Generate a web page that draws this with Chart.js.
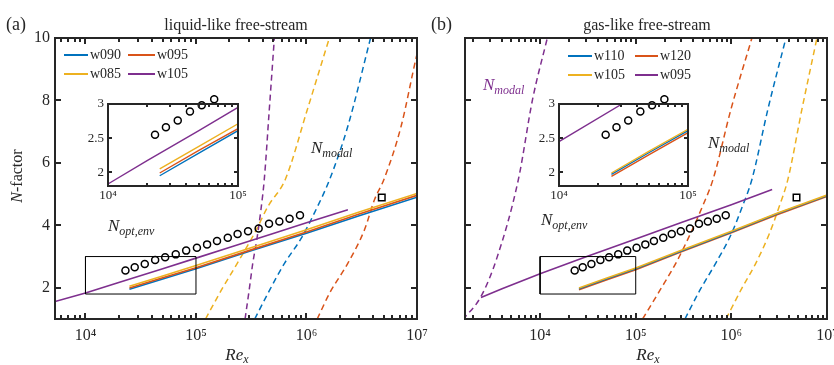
<!DOCTYPE html>
<html>
<head>
<meta charset="utf-8">
<script src="https://cdn.jsdelivr.net/npm/chart.js@4.4.1/dist/chart.umd.min.js"></script>
<style>
  html, body { margin: 0; padding: 0; background: #fff; }
  #fig { position: relative; width: 834px; height: 365px; overflow: hidden;
         font-family: "Liberation Serif", "DejaVu Serif", serif; color: #262626; }
  #fig canvas { position: absolute; }
  .t { position: absolute; white-space: nowrap; line-height: 1; }
  .c { transform: translateX(-50%); }
  .sub { position: relative; font-size: 12px; top: 4px; font-style: italic; }
  .subx { position: relative; font-size: 12px; top: 3px; font-style: italic; }
  .sw { position: absolute; height: 2px; }
</style>
</head>
<body>
<div id="fig">
  <canvas id="mainA" width="440" height="365" style="left:0;top:0;width:440px;height:365px"></canvas>
  <canvas id="mainB" width="414" height="365" style="left:420px;top:0;width:414px;height:365px"></canvas>
  <canvas id="insetA" width="175" height="115" style="left:80px;top:95px;width:175px;height:115px"></canvas>
  <canvas id="insetB" width="175" height="115" style="left:530px;top:95px;width:175px;height:115px"></canvas>

  <div class="t" style="left:6px;top:15px;font-size:18px">(a)</div>
  <div class="t" style="left:431px;top:15px;font-size:18px">(b)</div>
  <div class="t c" style="left:236px;top:17px;font-size:16px">liquid-like free-stream</div>
  <div class="t c" style="left:647px;top:17px;font-size:16px">gas-like free-stream</div>

  <div class="t" style="left:17px;top:176px;font-size:16px;transform:translate(-50%,-50%) rotate(-90deg)"><i>N</i>-factor</div>
  <div class="t c" style="left:237px;top:346px;font-size:17px"><i>Re</i><span class="subx">x</span></div>
  <div class="t c" style="left:648px;top:346px;font-size:17px"><i>Re</i><span class="subx">x</span></div>

  <div class="t" style="left:311px;top:139px;font-size:17px"><i>N</i><span class="sub">modal</span></div>
  <div class="t" style="left:108px;top:217px;font-size:17px"><i>N</i><span class="sub">opt,env</span></div>
  <div class="t" style="left:483px;top:76px;font-size:17px;color:#7E2F8E"><i>N</i><span class="sub">modal</span></div>
  <div class="t" style="left:708px;top:134px;font-size:17px"><i>N</i><span class="sub">modal</span></div>
  <div class="t" style="left:541px;top:211px;font-size:17px"><i>N</i><span class="sub">opt,env</span></div>

  <div id="legendA"></div>
  <div id="legendB"></div>
</div>

<script>
// ---- series names and colours ----
const namesA = ['w090', 'w095', 'w085', 'w105'];
const namesB = ['w110', 'w120', 'w105', 'w095'];
const colorsA = ['#0072BD', '#D95319', '#EDB120', '#7E2F8E'];
const colorsB = ['#0072BD', '#D95319', '#EDB120', '#7E2F8E'];

// ---- axis ticks ----
const reTicks = [1e4, 1e5, 1e6, 1e7];
const reTickLabels = ['10⁴', '10⁵', '10⁶', '10⁷'];
const nTicks = [2, 4, 6, 8, 10];
const nTickLabels = ['2', '4', '6', '8', '10'];
const insetReTicks = [1e4, 1e5];
const insetReTickLabels = ['10⁴', '10⁵'];
const insetNTicks = [2, 2.5, 3];
const insetNTickLabels = ['2', '2.5', '3'];

// ---- experimental transition N and the reference point ----
const reExp = [2.30e4, 2.79e4, 3.44e4, 4.27e4, 5.26e4, 6.56e4, 8.15e4, 1.02e5, 1.26e5,
               1.55e5, 1.94e5, 2.38e5, 2.96e5, 3.69e5, 4.58e5, 5.68e5, 7.03e5, 8.73e5];
const nExp = [2.55, 2.66, 2.76, 2.89, 2.98, 3.07, 3.19, 3.28, 3.39,
              3.50, 3.60, 3.72, 3.81, 3.90, 4.05, 4.12, 4.21, 4.32];
const reRef = [4.8e6];
const nRef = [4.89];

// zoom window shown in the insets
const zoomRe = [1e4, 1e5, 1e5, 1e4, 1e4];
const zoomN = [1.8, 1.8, 3, 3, 1.8];

// ---- (a) liquid-like: optimal envelope ----
const reOptA = [2.5e4, 5e4, 1e5, 3e5, 1e6, 3e6, 1e7];
const nOptA_w090 = [1.95, 2.28, 2.61, 3.16, 3.75, 4.31, 4.90];
const nOptA_w095 = [1.99, 2.32, 2.64, 3.19, 3.79, 4.36, 4.96];
const nOptA_w085 = [2.05, 2.38, 2.71, 3.26, 3.86, 4.43, 5.02];
const reOptA_w105 = [5.3e3, 1e4, 2e4, 5e4, 1e5, 2e5, 5e5, 1e6, 2.37e6];
const nOptA_w105 = [1.56, 1.83, 2.17, 2.61, 2.95, 3.29, 3.74, 4.08, 4.50];

// ---- (a) liquid-like: modal N ----
const reModalA_w090 = [3.40e5, 4.49e5, 6.34e5, 8.98e5, 1.18e6, 1.62e6, 2.37e6, 3.80e6];
const nModalA_w090 = [1, 1.83, 2.79, 3.59, 4.40, 5.47, 7.18, 10];
const reModalA_w095 = [1.25e6, 1.62e6, 2.37e6, 3.35e6, 4.13e6, 5.02e6, 7.19e6, 9.84e6, 1.08e7];
const nModalA_w095 = [1, 1.83, 2.79, 3.86, 4.83, 5.47, 7.18, 9.38, 9.95];
const reModalA_w085 = [1.22e5, 1.70e5, 2.37e5, 3.40e5, 4.49e5, 6.43e5, 1.02e6, 1.61e6];
const nModalA_w085 = [1, 1.93, 2.79, 3.76, 4.61, 5.47, 7.72, 10];
const reModalA_w105 = [2.78e5, 3.03e5, 3.27e5, 3.55e5, 3.87e5, 4.15e5, 4.61e5, 5.12e5];
const nModalA_w105 = [1, 1.93, 2.80, 3.54, 4.50, 5.47, 7.72, 10];

// ---- (b) gas-like: optimal envelope ----
const reOptB = [2.55e4, 5e4, 1e5, 3e5, 1e6, 3e6, 1e7];
const nOptB_w110 = [1.97, 2.29, 2.61, 3.18, 3.79, 4.37, 4.95];
const nOptB_w120 = [1.94, 2.26, 2.58, 3.15, 3.76, 4.34, 4.93];
const nOptB_w105 = [1.99, 2.31, 2.63, 3.20, 3.81, 4.39, 4.97];
const reOptB_w095 = [2.41e3, 4e3, 1e4, 3.08e4, 1e5, 3e5, 1e6, 2.67e6];
const nOptB_w095 = [1.69, 1.97, 2.45, 3.0, 3.56, 4.09, 4.66, 5.15];

// ---- (b) gas-like: modal N ----
const reModalB_w110 = [3.27e5, 4.70e5, 6.90e5, 9.91e5, 1.29e6, 1.64e6, 2.41e6, 3.72e6];
const nModalB_w110 = [1, 1.93, 2.80, 3.70, 4.57, 5.47, 7.72, 10];
const reModalB_w120 = [1.18e5, 1.80e5, 2.64e5, 3.69e5, 4.93e5, 6.43e5, 9.91e5, 1.64e6];
const nModalB_w120 = [1, 1.93, 2.80, 3.70, 4.57, 5.47, 7.72, 10];
const reModalB_w105 = [8.79e5, 1.26e6, 1.81e6, 2.47e6, 3.14e6, 3.90e6, 5.47e6, 7.85e6];
const nModalB_w105 = [1, 1.93, 2.80, 3.70, 4.57, 5.47, 7.72, 10];
const reModalB_w095 = [1.55e3, 2.41e3, 3.53e3, 5.93e3, 8.35e3, 1.19e4];
const nModalB_w095 = [0.97, 1.72, 2.95, 5.47, 8.04, 10];

// ---------------------------------------------------------------
const INK = '#262626';
const FONT = '"Liberation Serif", "DejaVu Serif", serif';

const pts = (xs, ys) => xs.map((x, i) => ({ x, y: ys[i] }));

function solid(xs, ys, color, width) {
  return { data: pts(xs, ys), showLine: true, borderColor: color, borderWidth: width || 1.6,
           pointRadius: 0, fill: false, clip: 0 };
}
function dashed(xs, ys, color) {
  return { data: pts(xs, ys), showLine: true, borderColor: color, borderWidth: 1.5,
           borderDash: [6, 4], cubicInterpolationMode: 'monotone',
           pointRadius: 0, fill: false, clip: 0 };
}
function markers(xs, ys, style, radius) {
  return { data: pts(xs, ys), showLine: false, pointStyle: style, pointRadius: radius,
           pointBorderWidth: 1.5, pointBorderColor: '#000', pointBackgroundColor: 'rgba(0,0,0,0)',
           clip: false };
}
function box(xs, ys) {
  return { data: pts(xs, ys), showLine: true, borderColor: '#000', borderWidth: 1,
           pointRadius: 0, fill: false, clip: 0 };
}

function labelFor(vals, texts, v) {
  const i = vals.findIndex(t => Math.abs(t - v) <= 1e-9 * Math.max(1, Math.abs(t)));
  return i < 0 ? '' : texts[i];
}

function logMinors(lo, hi) {
  const out = [];
  for (let e = Math.floor(Math.log10(lo)); e < Math.ceil(Math.log10(hi)); e++) {
    for (let k = 2; k <= 9; k++) {
      const v = k * Math.pow(10, e);
      if (v > lo && v < hi) out.push(v);
    }
  }
  return out;
}

// box frame with inward ticks on all four sides
function framePlugin(cfg) {
  const xMajor = cfg.xTicks.slice();
  const xMinor = logMinors(cfg.xmin, cfg.xmax);
  const yMajor = cfg.yTicks.slice();
  return {
    id: 'frame',
    beforeDraw(chart) {
      if (!cfg.background) return;
      const a = chart.chartArea, c = chart.ctx;
      c.save();
      c.fillStyle = cfg.background;
      c.fillRect(a.left, a.top, a.right - a.left, a.bottom - a.top);
      c.restore();
    },
    afterDraw(chart) {
      const c = chart.ctx, a = chart.chartArea;
      const xs = chart.scales.x, ys = chart.scales.y;
      const L = Math.round(a.left), R = Math.round(a.right);
      const T = Math.round(a.top), B = Math.round(a.bottom);
      c.save();
      c.fillStyle = INK;
      const groups = [[xMajor, cfg.major], [xMinor, cfg.minor]];
      for (const [vals, len] of groups) {
        for (const v of vals) {
          const p = Math.round(xs.getPixelForValue(v));
          if (!(p > L + 1 && p < R - 1)) continue;
          c.fillRect(p - 1, B - len, 2, len);
          c.fillRect(p - 1, T, 2, len);
        }
      }
      for (const v of yMajor) {
        const p = Math.round(ys.getPixelForValue(v));
        if (!(p > T + 1 && p < B - 1)) continue;
        c.fillRect(L, p - 1, cfg.major, 2);
        c.fillRect(R - cfg.major, p - 1, cfg.major, 2);
      }
      c.strokeStyle = INK;
      c.lineWidth = 2;
      c.strokeRect(L, T, R - L, B - T);
      c.restore();
    }
  };
}

function build(id, cfg) {
  const { area, w, h } = cfg;
  return new Chart(document.getElementById(id), {
    type: 'scatter',
    data: { datasets: cfg.datasets },
    plugins: [framePlugin(cfg)],
    options: {
      responsive: false, animation: false, devicePixelRatio: 1,
      layout: { padding: { left: 0, top: area.top, right: w - area.right, bottom: 0 } },
      plugins: { legend: { display: false }, tooltip: { enabled: false } },
      scales: {
        x: {
          type: 'logarithmic', min: cfg.xmin, max: cfg.xmax,
          grid: { display: false, drawTicks: false }, border: { display: false },
          ticks: { autoSkip: false, maxRotation: 0, minRotation: 0, padding: cfg.xPad, color: INK,
                   font: { family: FONT, size: cfg.fontSize },
                   callback: v => labelFor(cfg.xTicks, cfg.xLabels, v) },
          afterBuildTicks: s => { s.ticks = cfg.xTicks.map(value => ({ value })); },
          afterFit: s => { s.height = h - area.bottom; s.paddingLeft = 0; s.paddingRight = 0; }
        },
        y: {
          type: 'linear', min: cfg.ymin, max: cfg.ymax,
          grid: { display: false, drawTicks: false }, border: { display: false },
          ticks: { display: cfg.showY, autoSkip: false, padding: cfg.yPad, color: INK,
                   font: { family: FONT, size: cfg.fontSize },
                   callback: v => labelFor(cfg.yTicks, cfg.yLabels, v) },
          afterBuildTicks: s => { s.ticks = cfg.yTicks.map(value => ({ value })); },
          afterFit: s => { s.width = area.left; s.paddingTop = 0; s.paddingBottom = 0; }
        }
      }
    }
  });
}

// ---- panel (a) ----
build('mainA', {
  w: 440, h: 365, area: { left: 55, top: 38, right: 417, bottom: 319 },
  xmin: 5.3e3, xmax: 1e7, ymin: 1, ymax: 10,
  xTicks: reTicks, xLabels: reTickLabels, yTicks: nTicks, yLabels: nTickLabels,
  showY: true, fontSize: 16, xPad: 7, yPad: 5, major: 6, minor: 4,
  datasets: [
    markers(reExp, nExp, 'circle', 3.5),
    markers(reRef, nRef, 'rect', 4.6),
    box(zoomRe, zoomN),
    solid(reOptA_w105, nOptA_w105, colorsA[3]),
    solid(reOptA, nOptA_w085, colorsA[2]),
    solid(reOptA, nOptA_w095, colorsA[1]),
    solid(reOptA, nOptA_w090, colorsA[0]),
    dashed(reModalA_w105, nModalA_w105, colorsA[3]),
    dashed(reModalA_w085, nModalA_w085, colorsA[2]),
    dashed(reModalA_w095, nModalA_w095, colorsA[1]),
    dashed(reModalA_w090, nModalA_w090, colorsA[0])
  ]
});
build('insetA', {
  w: 175, h: 115, area: { left: 28, top: 9, right: 158, bottom: 91 },
  xmin: 1e4, xmax: 1e5, ymin: 1.8, ymax: 3, background: '#fff',
  xTicks: insetReTicks, xLabels: insetReTickLabels, yTicks: insetNTicks, yLabels: insetNTickLabels,
  showY: true, fontSize: 13, xPad: 2, yPad: 4, major: 4, minor: 3,
  datasets: [
    markers(reExp, nExp, 'circle', 3.5),
    solid(reOptA_w105, nOptA_w105, colorsA[3], 1.4),
    solid(reOptA, nOptA_w085, colorsA[2], 1.4),
    solid(reOptA, nOptA_w095, colorsA[1], 1.4),
    solid(reOptA, nOptA_w090, colorsA[0], 1.4)
  ]
});

// ---- panel (b) ----
build('mainB', {
  w: 414, h: 365, area: { left: 45, top: 38, right: 407, bottom: 319 },
  xmin: 1.64e3, xmax: 1e7, ymin: 1, ymax: 10,
  xTicks: reTicks, xLabels: reTickLabels, yTicks: nTicks, yLabels: nTickLabels,
  showY: false, fontSize: 16, xPad: 7, yPad: 5, major: 6, minor: 4,
  datasets: [
    markers(reExp, nExp, 'circle', 3.5),
    markers(reRef, nRef, 'rect', 4.6),
    box(zoomRe, zoomN),
    solid(reOptB_w095, nOptB_w095, colorsB[3]),
    solid(reOptB, nOptB_w105, colorsB[2]),
    solid(reOptB, nOptB_w110, colorsB[0]),
    solid(reOptB, nOptB_w120, colorsB[1]),
    dashed(reModalB_w095, nModalB_w095, colorsB[3]),
    dashed(reModalB_w105, nModalB_w105, colorsB[2]),
    dashed(reModalB_w120, nModalB_w120, colorsB[1]),
    dashed(reModalB_w110, nModalB_w110, colorsB[0])
  ]
});
build('insetB', {
  w: 175, h: 115, area: { left: 29, top: 9, right: 158, bottom: 91 },
  xmin: 1e4, xmax: 1e5, ymin: 1.8, ymax: 3, background: '#fff',
  xTicks: insetReTicks, xLabels: insetReTickLabels, yTicks: insetNTicks, yLabels: insetNTickLabels,
  showY: true, fontSize: 13, xPad: 2, yPad: 4, major: 4, minor: 3,
  datasets: [
    markers(reExp, nExp, 'circle', 3.5),
    solid(reOptB_w095, nOptB_w095, colorsB[3], 1.4),
    solid(reOptB, nOptB_w105, colorsB[2], 1.4),
    solid(reOptB, nOptB_w110, colorsB[0], 1.4),
    solid(reOptB, nOptB_w120, colorsB[1], 1.4)
  ]
});

// ---- legends (two columns, two rows, inside the axes) ----
function legend(el, names, colors, cols, rows) {
  const host = document.getElementById(el);
  names.forEach((name, i) => {
    const col = cols[i % 2], rowY = rows[Math.floor(i / 2)];
    const sw = document.createElement('div');
    sw.className = 'sw';
    sw.style.cssText = `left:${col[0]}px;top:${rowY - 1}px;width:${col[1] - col[0]}px;background:${colors[i]}`;
    host.appendChild(sw);
    const tx = document.createElement('div');
    tx.className = 't';
    tx.style.cssText = `left:${col[1] + 2}px;top:${rowY - 7}px;font-size:14px`;
    tx.textContent = name;
    host.appendChild(tx);
  });
}
legend('legendA', namesA, colorsA, [[64, 88], [128, 155]], [55, 74]);
legend('legendB', namesB, colorsB, [[568, 592], [635, 658]], [56, 75]);
</script>
</body>
</html>
